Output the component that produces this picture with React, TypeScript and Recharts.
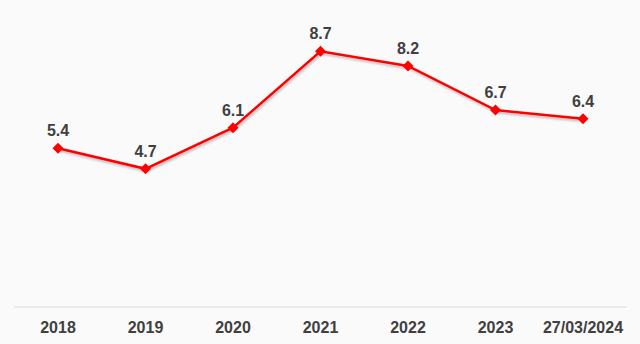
import { LineChart, Line, XAxis, YAxis, LabelList } from "recharts";

const years = ["2018", "2019", "2020", "2021", "2022", "2023", "27/03/2024"];
const rates = [5.4, 4.7, 6.1, 8.7, 8.2, 6.7, 6.4];

const data = years.map((year, i) => ({ year, rate: rates[i] }));

const FONT = "Liberation Sans, Arial, sans-serif";

const Diamond = (props: any) => {
  const { cx, cy } = props;
  if (cx == null || cy == null) return null;
  const r = 5.5;
  return (
    <path
      d={`M${cx},${cy - r} L${cx + r},${cy} L${cx},${cy + r} L${cx - r},${cy} Z`}
      fill="#ff0000"
    />
  );
};

export default function App() {
  return (
    <div style={{ position: "fixed", left: 0, top: 0, width: 640, height: 344, background: "#fafafa" }}>
      <LineChart width={640} height={344} data={data} margin={{ top: 13, right: 13, bottom: 0, left: 14 }}>
        <defs>
          <filter id="shadow" x="-10%" y="-10%" width="120%" height="140%">
            <feDropShadow dx="1" dy="2" stdDeviation="1.2" floodColor="#000" floodOpacity="0.25" />
          </filter>
        </defs>
        <XAxis
          dataKey="year"
          axisLine={{ stroke: "#dddddd" }}
          tickLine={false}
          tickMargin={9}
          height={37}
          interval={0}
          padding={{ left: 44, right: 44 }}
          tick={{ fill: "#404040", fontSize: 16, fontWeight: "bold", fontFamily: FONT }}
        />
        <YAxis hide domain={[0, 10]} />
        <Line
          dataKey="rate"
          stroke="#ff0000"
          strokeWidth={2.5}
          dot={<Diamond />}
          activeDot={false}
          isAnimationActive={false}
          style={{ filter: "url(#shadow)" }}
        >
          <LabelList
            dataKey="rate"
            position="top"
            offset={12}
            fill="#404040"
            fontSize={16}
            fontWeight="bold"
            fontFamily={FONT}
            formatter={(v: any) => Number(v).toFixed(1)}
          />
        </Line>
      </LineChart>
    </div>
  );
}
